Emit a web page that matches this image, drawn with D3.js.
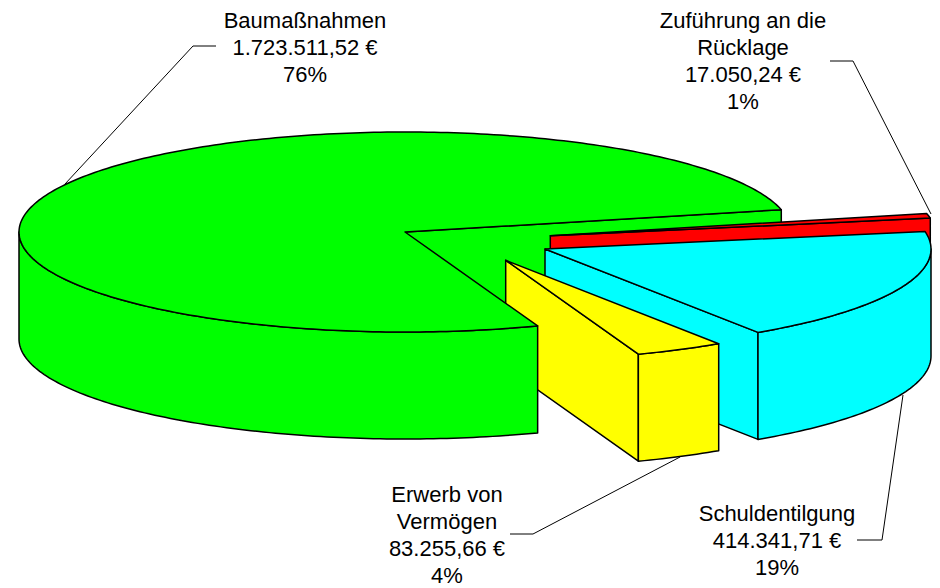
<!DOCTYPE html>
<html>
<head>
<meta charset="utf-8">
<style>html,body{margin:0;padding:0;background:#fff}svg{display:block}</style>
<script src="https://cdnjs.cloudflare.com/ajax/libs/d3/7.8.5/d3.min.js"></script>
</head>
<body>
<script>
// Data
const categories = ["Baumaßnahmen", "Zuführung an die|Rücklage", "Schuldentilgung", "Erwerb von|Vermögen"];
const values = [1723511.52, 17050.24, 414341.71, 83255.66];
const percentLabels = ["76%", "1%", "19%", "4%"];
const colors = ["#00ff00", "#ff0000", "#00ffff", "#ffff00"];

// Layout
const W = 940, H = 588;
const cx = 405, cy = 232, rx = 386, ry = 100, depth = 107;
const firstAngleDeg = 159.9;
const explode = [[0, 0], [145.3, 3.7], [140, 17], [100.7, 28.3]];
const labelAnchors = [[305, 20], [743, 20], [777, 513], [447, 494]];
const lineStep = 27;
const leaders = [
  [[216, 46], [193, 46], [65, 184]],
  [[830, 61], [853, 61], [931, 214]],
  [[857, 540], [882, 540], [903, 395]],
  [[510, 534], [533, 534], [680, 457]]
];

const de = d3.formatLocale({decimal: ",", thousands: ".", grouping: [3], currency: ["", " €"]});
const fmt = de.format("$,.2f");

const svg = d3.select("body").append("svg").attr("width", W).attr("height", H);

const x = d3.scaleLinear().domain([-1, 1]).range([cx - rx, cx + rx]);
const y = d3.scaleLinear().domain([-1, 1]).range([cy - ry, cy + ry]);

const start = firstAngleDeg * Math.PI / 180;
const arcs = d3.pie().sort(null).startAngle(start).endAngle(start + 2 * Math.PI)(values);
const line = d3.line();

function pt(a, i, drop) {           // a = d3 pie angle (0 at top, clockwise)
  return [x(Math.sin(a)) + explode[i][0], y(-Math.cos(a)) + explode[i][1] + (drop || 0)];
}
function arcPoints(a0, a1, i, drop) {
  const n = Math.max(2, Math.ceil((a1 - a0) / (Math.PI / 180)));
  return d3.range(n + 1).map(k => pt(a0 + (a1 - a0) * k / n, i, drop));
}
const apex = (i, drop) => [x(0) + explode[i][0], y(0) + explode[i][1] + (drop || 0)];

function draw(d, points) {
  svg.append("path").attr("d", line(points) + "Z")
    .attr("fill", colors[d.index]).attr("stroke", "#000")
    .attr("stroke-width", 1.5).attr("stroke-linejoin", "round");
}
function drawWalls(d) {
  const i = d.index;
  // a radial cut is seen only when it faces the viewer
  if (Math.sin(d.endAngle) > 0) {
    const e = pt(d.endAngle, i);
    draw(d, [apex(i), e, pt(d.endAngle, i, depth), apex(i, depth)]);
  }
  if (Math.sin(d.startAngle) < 0) {
    const s = pt(d.startAngle, i);
    draw(d, [apex(i), s, pt(d.startAngle, i, depth), apex(i, depth)]);
  }
}
function drawRest(d) {
  const i = d.index;
  // outer wall: parts of the rim on the front half (d3 angle between 90° and 270°, modulo turns)
  const twoPi = 2 * Math.PI;
  for (let t = -1; t <= 1; t++) {
    const a0 = Math.max(d.startAngle, Math.PI / 2 + t * twoPi);
    const a1 = Math.min(d.endAngle, 3 * Math.PI / 2 + t * twoPi);
    if (a1 > a0) {
      draw(d, arcPoints(a0, a1, i).concat(arcPoints(a0, a1, i, depth).reverse()));
    }
  }
  draw(d, [apex(i)].concat(arcPoints(d.startAngle, d.endAngle, i)));
}

// Leaders sit below the pie
leaders.forEach(l => svg.append("path").attr("d", line(l)).attr("fill", "none")
  .attr("stroke", "#000").attr("stroke-width", 1));

// Painter's order as in the reference
drawWalls(arcs[0]);
[1, 2, 3].forEach(i => { drawWalls(arcs[i]); drawRest(arcs[i]); });
drawRest(arcs[0]);

// Labels
categories.forEach((c, i) => {
  const lines = c.split("|").concat([fmt(values[i]), percentLabels[i]]);
  const t = svg.append("text").attr("text-anchor", "middle")
    .attr("font-family", "'Liberation Sans', Arial, sans-serif")
    .attr("font-size", 22).attr("fill", "#000");
  lines.forEach((s, k) => t.append("tspan")
    .attr("x", labelAnchors[i][0])
    .attr("y", labelAnchors[i][1] + k * lineStep)
    .attr("dy", "0.35em").text(s));
});
</script>
</body>
</html>
